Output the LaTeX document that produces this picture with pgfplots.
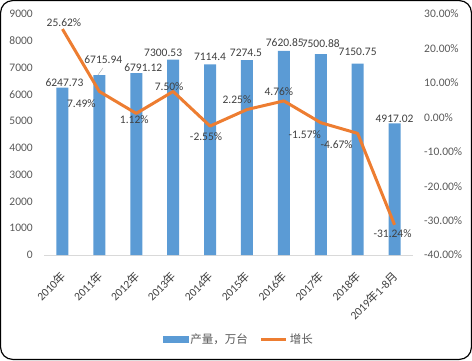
\documentclass[border=0pt]{standalone}
\usepackage{pgfplots}
\pgfplotsset{compat=1.18}
\usepackage{pgfplotstable}
\usepackage{fontspec}
\setmainfont{Carlito}
\newfontfamily\cjk{Noto Sans CJK SC}
\definecolor{barblue}{HTML}{5B9BD5}
\definecolor{lineorange}{HTML}{ED7D31}
\definecolor{ticktext}{HTML}{595959}
\definecolor{labtext}{HTML}{404040}
\definecolor{axisgray}{HTML}{D9D9D9}
\newcommand\chartfont{\fontsize{11.5}{13}\selectfont}

\pgfplotstableread{
x y dx dy lab
0 6247.73 2 5 6247.73
1 6715.94 4 16 6715.94
2 6791.12 7 5 6791.12
3 7300.53 -10 6.5 7300.53
4 7114.4 0 7.5 7114.4
5 7274.5 -1 7 7274.5
6 7620.85 1 8 7620.85
7 7500.88 0 11 7500.88
8 7150.75 0 11.5 7150.75
9 4917.02 0 5 4917.02
}\bardata

\pgfplotstableread{
x y dx dy lab
0 25.62 1.5 6 25.62
1 7.49 -18 -12 7.49
2 1.12 -2 -6 1.12
3 7.50 -4 5 7.50
4 -2.55 -4 -11 -2.55
5 2.25 -10 10 2.25
6 4.76 -5 9 4.76
7 -1.57 -16 -12 -1.57
8 -4.67 -21 -11 -4.67
9 -31.24 -2 -9 -31.24
}\growthdata

\begin{document}
\begin{tikzpicture}[x=1pt,y=1pt]
\useasboundingbox (0,0) rectangle (472,360);
\draw[line width=1.2pt, rounded corners=12pt] (0.6,0.6) rectangle (471.4,359.4);
\begin{axis}[
  at={(44pt,105pt)}, anchor=south west,
  width=369pt, height=241pt, scale only axis,
  xmin=-0.5, xmax=9.5,
  ymin=0, ymax=9000,
  ytick={0,1000,...,9000},
  xtick={0,...,9},
  xticklabels={2010{\cjk 年},2011{\cjk 年},2012{\cjk 年},2013{\cjk 年},2014{\cjk 年},2015{\cjk 年},2016{\cjk 年},2017{\cjk 年},2018{\cjk 年},2019{\cjk 年}1-8{\cjk 月}},
  xticklabel style={font=\chartfont, text=labtext, inner sep=0pt, xshift=1pt, yshift=-19pt, rotate=45, anchor=east},
  yticklabel style={font=\chartfont, text=ticktext, anchor=east, inner sep=0pt, xshift=-11pt},
  /pgf/number format/assume math mode=true,
  /pgf/number format/1000 sep={},
  scaled y ticks=false,
  axis x line=bottom, axis y line=left, axis line style={-},
  y axis line style={draw=none},
  x axis line style={axisgray, line width=0.8pt},
  major tick length=0pt,
  tick style={draw=none},
]
\addplot[ybar, bar width=12pt, fill=barblue, draw=none,
  point meta=explicit symbolic,
  nodes near coords={\pgfplotspointmeta},
  visualization depends on={\thisrow{dx} \as \dx},
  visualization depends on={\thisrow{dy} \as \dy},
  every node near coord/.append style={anchor=center, xshift=\dx pt, yshift=\dy pt, font=\chartfont, text=labtext, inner sep=0pt},
] table[x=x,y=y,meta=lab] {\bardata};
\draw[gray!60, line width=0.5pt] (axis cs:0.96,6720) -- (axis cs:1.1,6985);
\end{axis}
\begin{axis}[
  at={(44pt,105pt)}, anchor=south west,
  width=369pt, height=241pt, scale only axis,
  xmin=-0.5, xmax=9.5,
  ymin=-40, ymax=30,
  ytick={-40,-30,...,30},
  axis x line=none, axis y line=right, axis line style={draw=none},
  major tick length=0pt, tick style={draw=none},
  /pgf/number format/assume math mode=true,
  yticklabel={\pgfmathprintnumber[fixed,fixed zerofill,precision=2]{\tick}\%},
  yticklabel style={font=\chartfont, text=ticktext, anchor=west, inner sep=0pt, xshift=11pt},
  legend style={at={(0.528,-0.349)}, anchor=center, draw=none, fill=none, legend columns=2, font=\chartfont, text=ticktext,
    /tikz/every even column/.append style={column sep=10pt}},
  legend cell align=left,
]
\addlegendimage{legend image code/.code={\fill[barblue] (0pt,-3pt) rectangle (25pt,3pt);}}
\addlegendentry{\cjk 产量，万台}
\addplot[lineorange, line width=3pt, line join=round, mark=none,
  legend image code/.code={\draw[lineorange, line width=3pt] (0pt,0pt) -- (25pt,0pt);},
  point meta=explicit symbolic,
  nodes near coords={\pgfplotspointmeta\%},
  visualization depends on={\thisrow{dx} \as \dx},
  visualization depends on={\thisrow{dy} \as \dy},
  every node near coord/.append style={anchor=center, xshift=\dx pt, yshift=\dy pt, font=\chartfont, text=labtext, inner sep=0pt},
] table[x=x,y=y,meta=lab] {\growthdata};
\addlegendentry{\cjk 增长}
\end{axis}
\end{tikzpicture}
\end{document}
